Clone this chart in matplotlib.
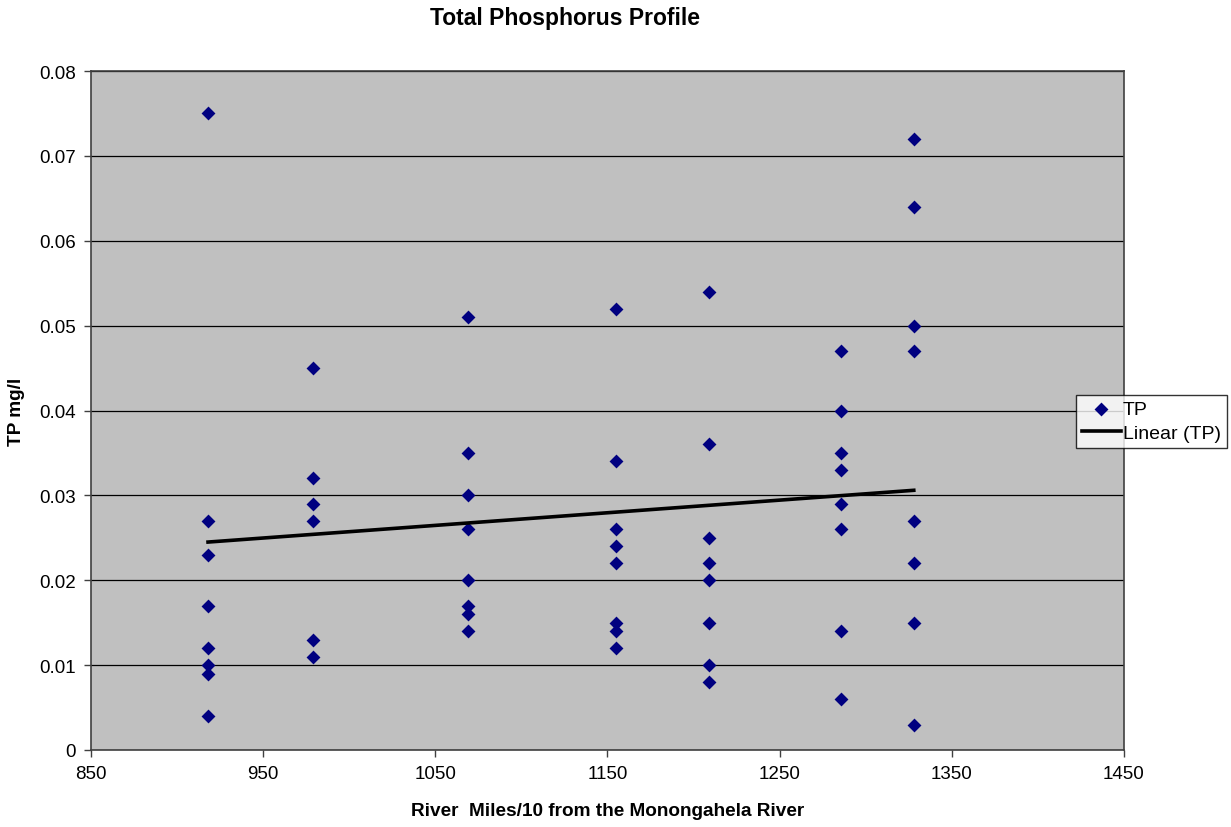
import numpy as np
import matplotlib
matplotlib.use("Agg")
import matplotlib.pyplot as plt

plt.rcParams['font.family'] = ['Liberation Sans', 'DejaVu Sans']

# river miles/10 stations and TP readings (mg/l)
miles = [918] * 8 + [979] * 6 + [1069] * 8 + [1155] * 8 + [1209] * 8 + [1286] * 8 + [1328] * 8
tp = [0.075, 0.027, 0.023, 0.017, 0.012, 0.010, 0.009, 0.004,
      0.045, 0.032, 0.029, 0.027, 0.013, 0.011,
      0.051, 0.035, 0.030, 0.026, 0.020, 0.017, 0.016, 0.014,
      0.052, 0.034, 0.026, 0.024, 0.022, 0.015, 0.014, 0.012,
      0.054, 0.036, 0.025, 0.022, 0.020, 0.015, 0.010, 0.008,
      0.047, 0.040, 0.035, 0.033, 0.029, 0.026, 0.014, 0.006,
      0.072, 0.064, 0.050, 0.047, 0.027, 0.022, 0.015, 0.003]
# Excel linear trendline, end values
trend_x = [918, 1328]
trend_y = [0.0245, 0.0306]
xticks = [850, 950, 1050, 1150, 1250, 1350, 1450]
yticks = [0, 0.01, 0.02, 0.03, 0.04, 0.05, 0.06, 0.07, 0.08]

fig = plt.figure(figsize=(12.31, 8.28), dpi=100)
ax = fig.add_axes([0.0739, 0.093, 0.839, 0.820])
ax.set_facecolor('#c0c0c0')

ax.scatter(miles, tp, marker='D', s=50, color='#000080', zorder=3, label='TP', linewidths=0)
ax.plot(trend_x, trend_y, color='black', lw=2.6, zorder=4, label='Linear (TP)')

ax.set_xlim(850, 1450)
ax.set_ylim(0, 0.08)
ax.set_xticks(xticks)
ax.set_xticklabels([str(t) for t in xticks])
ax.set_yticks(yticks)
ax.set_yticklabels(['0'] + ['%.2f' % t for t in yticks[1:]])
ax.yaxis.grid(True, color='black', lw=0.9)
ax.set_axisbelow(True)
for s in ax.spines.values():
    s.set_color('#404040')
    s.set_linewidth(1.2)
ax.tick_params(direction='out', length=5, width=1, color='#404040', labelsize=13.5, pad=6)

ax.set_title('Total Phosphorus Profile', fontsize=16.5, fontweight='bold', pad=34, x=0.459)
ax.set_xlabel('River  Miles/10 from the Monongahela River', fontsize=13.7, fontweight='bold', labelpad=14)
ax.set_ylabel('TP mg/l', fontsize=13.7, fontweight='bold', labelpad=10)

leg = fig.legend(loc='upper left', bbox_to_anchor=(1076 / 1231, 1 - 396 / 828),
                 fontsize=14, frameon=True, fancybox=False, edgecolor='black',
                 borderpad=0.3, handlelength=2.0, handletextpad=0.1, borderaxespad=0,
                 labelspacing=0.3)
leg.get_frame().set_linewidth(1.0)

fig.savefig('out.png', dpi=100)
